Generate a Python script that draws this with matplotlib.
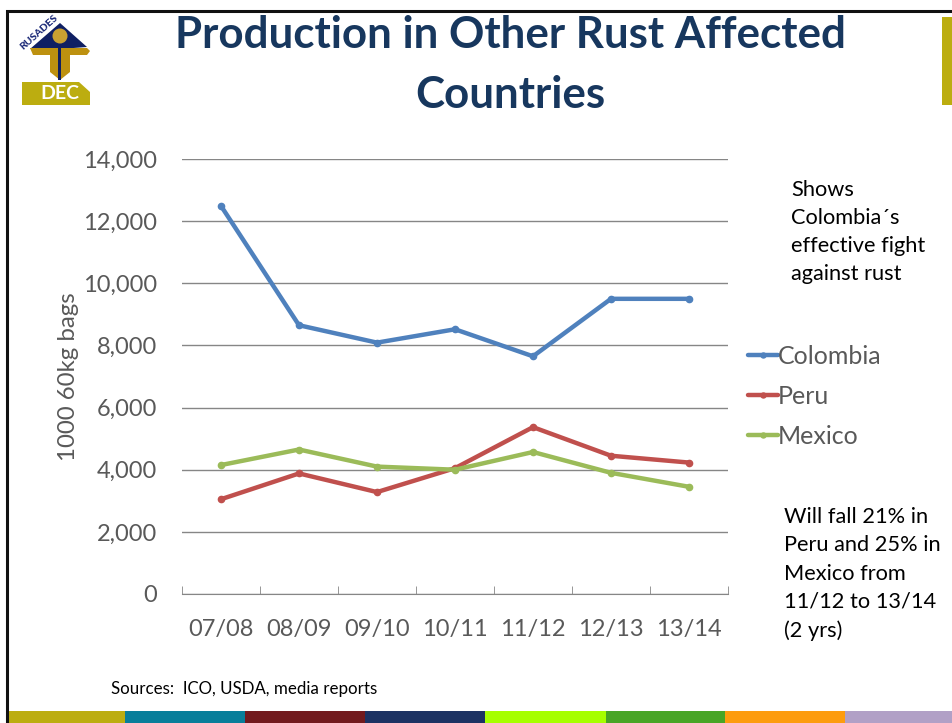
import matplotlib

matplotlib.use("Agg")
import matplotlib.pyplot as plt
from matplotlib.patches import Circle, Polygon, Rectangle

WIDTH, HEIGHT = 953, 723

seasons = ["07/08", "08/09", "09/10", "10/11", "11/12", "12/13", "13/14"]
colombia = [12490, 8650, 8090, 8520, 7650, 9500, 9500]
peru = [3050, 3880, 3280, 4050, 5370, 4450, 4230]
mexico = [4150, 4650, 4100, 4000, 4570, 3900, 3450]
y_ticks = [0, 2000, 4000, 6000, 8000, 10000, 12000, 14000]

band_edges = [7, 125, 245, 365, 485, 606, 725, 845, 953]
band_colors = ["#BCAD10", "#087E9A", "#721A1E", "#1C3263", "#A6FF00", "#48A526", "#FD9C0E", "#B1A0C6"]

GREY = "#595959"
plt.rcParams["font.family"] = ["Lato", "DejaVu Sans"]

fig = plt.figure(figsize=(WIDTH / 100, HEIGHT / 100), dpi=100, facecolor="white")

# overlay in pixel coordinates for the slide furniture
page = fig.add_axes([0, 0, 1, 1], zorder=0)
page.set_xlim(0, WIDTH)
page.set_ylim(HEIGHT, 0)
page.axis("off")

page.plot([7.5, 7.5, WIDTH], [HEIGHT, 10.5, 10.5], color="#111111", lw=2.2, solid_joinstyle="miter")
for left, right, color in zip(band_edges[:-1], band_edges[1:], band_colors):
    page.add_patch(Rectangle((left, 711), right - left, 12, color=color, lw=0))
page.add_patch(Rectangle((942, 17), 11, 88, color="#BCAD10", lw=0))

# logo
page.add_patch(Polygon([[30, 49], [60, 23], [87, 47], [60, 49]], color="#0F1F63", lw=0))
page.add_patch(Polygon([[30, 48], [87, 48], [90, 51], [87, 55], [70, 55], [70, 72], [60, 80],
                        [50, 72], [50, 55], [33, 55]], color="#BD9110", lw=0))
page.add_patch(Rectangle((58, 47), 3, 33, color="#0F1F63", lw=0))
page.add_patch(Circle((60, 36), 7.5, color="#C9A032", lw=0))
page.text(39, 32, "RUSADES", color="#1C2A78", fontsize=7.5, fontweight="black", rotation=42,
          ha="center", va="center")
page.add_patch(Polygon([[22, 82], [79, 82], [90, 92], [90, 105], [22, 105]], color="#BCAD10", lw=0))
page.text(60, 93.5, "DEC", color="white", fontsize=14, fontweight="bold", ha="center", va="center")

page.text(510, 65, "Production in Other Rust Affected\nCountries", color="#17375E", fontsize=31.6,
          fontweight="bold", ha="center", va="center", linespacing=1.6)
page.text(111, 689, "Sources:  ICO, USDA, media reports", color="black", fontsize=12.2, va="center")

page.text(791, 232, "Shows\nColombia\u00b4s\neffective fight\nagainst rust", color="black", fontsize=15.7,
          va="center", linespacing=1.52)
page.text(784, 574, "Will fall 21% in\nPeru and 25% in\nMexico from\n11/12 to 13/14\n(2 yrs)", color="black",
          fontsize=15.7, va="center", linespacing=1.52)

ax = fig.add_axes([182 / WIDTH, 1 - 594 / HEIGHT, (728 - 182) / WIDTH, (594 - 159) / HEIGHT], zorder=1)
ax.patch.set_alpha(0)

series = [("Colombia", colombia, "#4F81BD"), ("Peru", peru, "#C0504D"), ("Mexico", mexico, "#9BBB59")]
x = range(len(seasons))
for name, values, color in series:
    ax.plot(x, values, color=color, lw=3.2, marker="o", ms=4.5, label=name, solid_capstyle="round")

ax.set_xlim(-0.5, len(seasons) - 0.5)
ax.set_ylim(0, 14000)
ax.set_xticks(list(x), seasons)
ax.set_yticks(y_ticks, [f"{v:,}" for v in y_ticks])
ax.set_xticks([i - 0.5 for i in range(len(seasons) + 1)], minor=True)
ax.grid(axis="y", color="#868686", lw=1)
ax.set_axisbelow(True)
ax.tick_params(axis="x", which="major", length=0, pad=18, labelsize=17, labelcolor=GREY)
ax.tick_params(axis="x", which="minor", length=6, color="#868686", direction="in", top=False)
ax.tick_params(axis="y", length=0, pad=18, labelsize=17, labelcolor=GREY)
ax.set_ylabel("1000 60kg bags", fontsize=17.3, color=GREY, labelpad=3)
for side in ("top", "right", "left"):
    ax.spines[side].set_visible(False)
ax.spines["bottom"].set_color("#868686")

ax.legend(loc="center left", bbox_to_anchor=(748 / WIDTH, 1 - 396 / HEIGHT), bbox_transform=fig.transFigure,
          frameon=False, fontsize=18, labelcolor=GREY, handlelength=1.2, handletextpad=0,
          labelspacing=0.68, borderpad=0, borderaxespad=0, markerscale=0.8)

fig.savefig("out.png", dpi=100)
